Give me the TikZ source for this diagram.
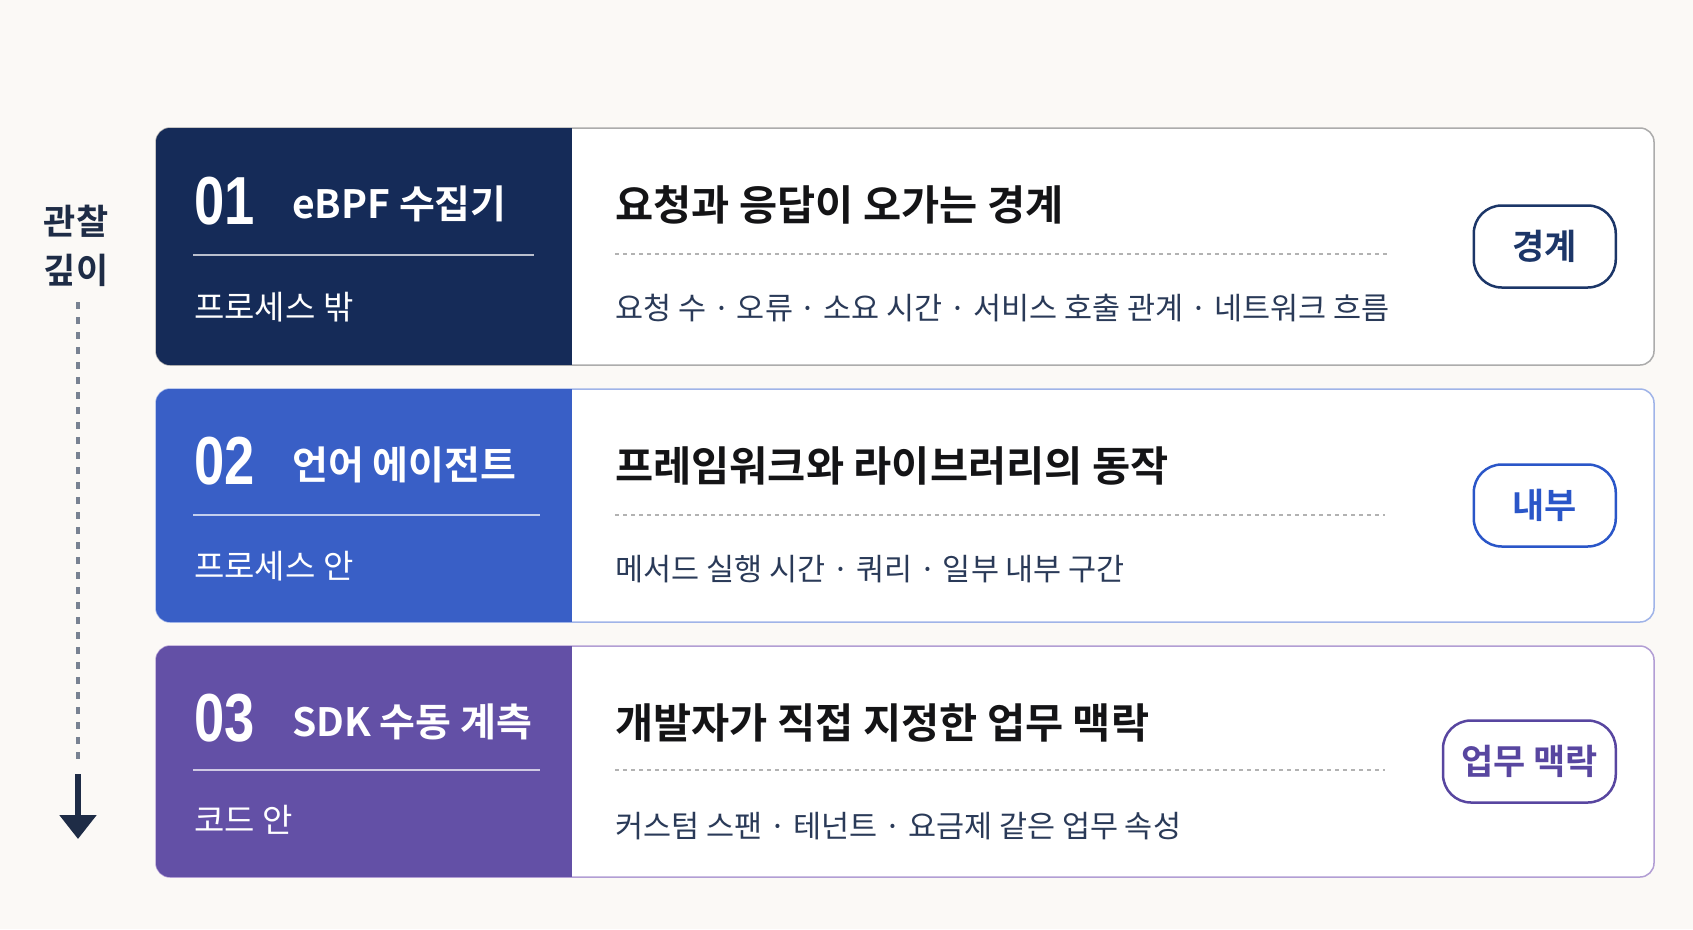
\documentclass[tikz,border=0pt]{standalone}
\usepackage{fontspec}
\setmainfont{Noto Sans CJK KR}[BoldFont={Noto Sans CJK KR Bold}]
\newfontfamily\numfont{Liberation Sans}[FakeStretch=0.8]
\definecolor{pagebg}{RGB}{251,249,246}
\definecolor{ebpfnavy}{RGB}{21,43,88}
\definecolor{agentblue}{RGB}{57,95,198}
\definecolor{sdkpurple}{RGB}{99,80,166}
\definecolor{ebpfedge}{RGB}{172,172,172}
\definecolor{agentedge}{RGB}{160,180,232}
\definecolor{sdkedge}{RGB}{178,158,212}
\definecolor{ebpftag}{RGB}{28,54,104}
\definecolor{agenttag}{RGB}{42,86,200}
\definecolor{sdktag}{RGB}{88,70,160}
\definecolor{headink}{RGB}{20,20,22}
\definecolor{infoink}{RGB}{42,58,88}
\definecolor{depthink}{RGB}{30,44,70}
\definecolor{depthdot}{RGB}{120,130,146}
\usetikzlibrary{arrows.meta}

\begin{document}
\begin{tikzpicture}[x=1pt,y=-1pt,
  card/.style={draw=#1, line width=1.5pt, fill=white, rounded corners=14pt},
  num/.style={anchor=west, inner sep=0, text=white, font=\numfont\bfseries\fontsize{68}{68}\selectfont},
  title/.style={anchor=west, inner sep=0, text=white, font=\bfseries\fontsize{39}{39}\selectfont},
  sub/.style={anchor=west, inner sep=0, text=white, font=\fontsize{33}{33}\selectfont},
  head/.style={anchor=west, inner sep=0, text=headink, font=\bfseries\fontsize{41.5}{41.5}\selectfont},
  info/.style={anchor=west, inner sep=0, text=infoink, font=\fontsize{30.5}{30.5}\selectfont},
  sepline/.style={white, opacity=0.7, line width=1.3pt},
  dots/.style={draw=black!30, line width=2pt, dash pattern=on 4pt off 4pt},
  tag/.style={draw=#1, text=#1, line width=2.5pt, rounded corners=28pt, anchor=east,
    minimum height=82pt, minimum width=142pt, inner xsep=18pt, font=\bfseries\fontsize{35}{35}\selectfont}]
  \fill[pagebg] (0,0) rectangle (1693,929);

  % depth axis
  \node[text=depthink, font=\bfseries\fontsize{35}{49}\selectfont, align=center] (depth) at (76,246) {관찰\\깊이};
  \coordinate (dtop) at (78,302);
  \coordinate (dmid) at (78,760);
  \coordinate (dfrom) at (78,774);
  \coordinate (dend) at (78,839);
  \draw[depthdot, line width=4.5pt, dash pattern=on 6.5pt off 8.5pt] (dtop) -- (dmid);
  \draw[depthink, line width=5.5pt, -{Triangle[width=36pt,length=24pt]}] (dfrom) -- (dend);

  % 01 eBPF
  \draw[card=ebpfedge] (156,128) rectangle (1654,365);
  \begin{scope}
    \clip[rounded corners=14pt] (156,128) rectangle (1654,365);
    \fill[ebpfnavy] (156,128) rectangle (572,365);
  \end{scope}
  \node[num] (num1) at (194,201) {01};
  \node[title] (title1) at (292,204) {eBPF 수집기};
  \draw[sepline] (193,255) -- (534,255);
  \node[sub] (sub1) at (194,307) {프로세스 밖};
  \node[head] (head1) at (615,205) {요청과 응답이 오가는 경계};
  \draw[dots] (615,254) -- (1388,254);
  \node[info] (info1) at (615,308) {요청 수 · 오류 · 소요 시간 · 서비스 호출 관계 · 네트워크 흐름};
  \node[tag=ebpftag] (tag1) at (1617,246.5) {경계};

  % 02 language agent
  \draw[card=agentedge] (156,389) rectangle (1654,622);
  \begin{scope}
    \clip[rounded corners=14pt] (156,389) rectangle (1654,622);
    \fill[agentblue] (156,389) rectangle (572,622);
  \end{scope}
  \node[num] (num2) at (194,461) {02};
  \node[title] (title2) at (292,465) {언어 에이전트};
  \draw[sepline] (193,515) -- (540,515);
  \node[sub] (sub2) at (194,566) {프로세스 안};
  \node[head] (head2) at (615,466) {프레임워크와 라이브러리의 동작};
  \draw[dots] (615,515) -- (1385,515);
  \node[info] (info2) at (615,569) {메서드 실행 시간 · 쿼리 · 일부 내부 구간};
  \node[tag=agenttag] (tag2) at (1617,505.5) {내부};

  % 03 SDK
  \draw[card=sdkedge] (156,646) rectangle (1654,877);
  \begin{scope}
    \clip[rounded corners=14pt] (156,646) rectangle (1654,877);
    \fill[sdkpurple] (156,646) rectangle (572,877);
  \end{scope}
  \node[num] (num3) at (194,718) {03};
  \node[title] (title3) at (292,722) {SDK 수동 계측};
  \draw[sepline] (193,770) -- (540,770);
  \node[sub] (sub3) at (194,820) {코드 안};
  \node[head] (head3) at (615,723) {개발자가 직접 지정한 업무 맥락};
  \draw[dots] (615,770) -- (1385,770);
  \node[info] (info3) at (615,826) {커스텀 스팬 · 테넌트 · 요금제 같은 업무 속성};
  \node[tag=sdktag] (tag3) at (1617,761.5) {업무 맥락};
\end{tikzpicture}
\end{document}
